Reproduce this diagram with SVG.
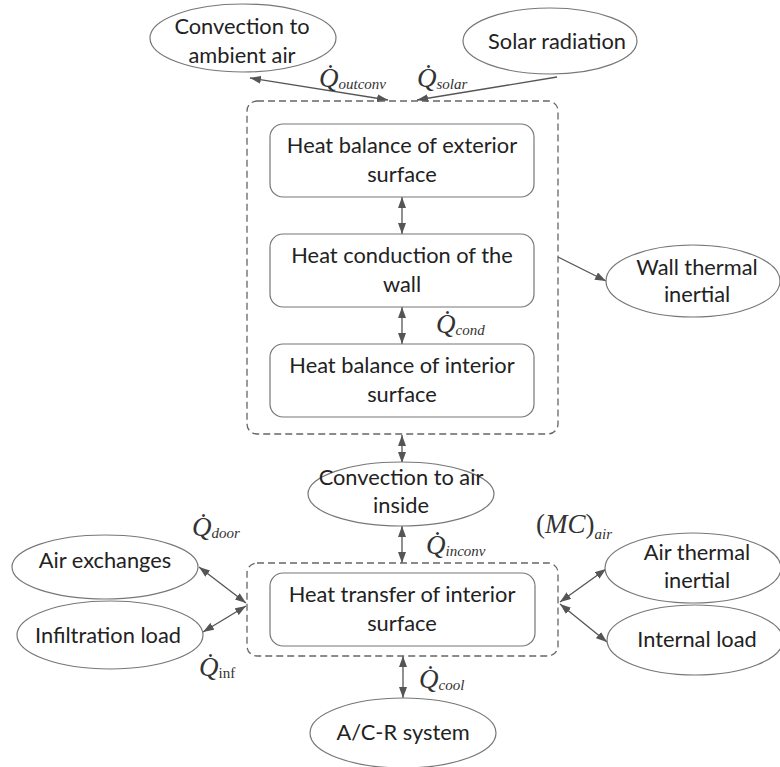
<svg xmlns="http://www.w3.org/2000/svg" width="780" height="767" viewBox="0 0 780 767">
<defs>
<marker id="ah" viewBox="0 0 11 8" refX="11" refY="4" markerWidth="11" markerHeight="8" markerUnits="userSpaceOnUse" orient="auto-start-reverse">
<path d="M0,0 L11,4 L0,8 z" fill="#555"/>
</marker>
<style>
.ell{fill:#fff;stroke:#777;stroke-width:1.2}
.box{fill:#fff;stroke:#777;stroke-width:1.2}
.dash{fill:none;stroke:#666;stroke-width:1.3;stroke-dasharray:7,4}
.t{font-family:Lato,"Open Sans","Liberation Sans",sans-serif;font-size:21.8px;fill:#222;text-anchor:middle}
.q{font-family:"Liberation Serif","Times New Roman",serif;font-style:italic;font-size:27px;fill:#333}
.s{font-size:15px}
.c{fill:none;stroke:#555;stroke-width:1.3}
.d{marker-start:url(#ah);marker-end:url(#ah)}
.e{marker-end:url(#ah)}
</style>
</defs>
<rect width="780" height="767" fill="#fff"/>
<g id="connectors">
<line class="c d" x1="250" y1="78" x2="388" y2="100"/>
<line class="c e" x1="557" y1="77" x2="417" y2="100"/>
<line class="c d" x1="402" y1="197" x2="402" y2="234"/>
<line class="c d" x1="402" y1="307" x2="402" y2="344"/>
<line class="c e" x1="558" y1="257" x2="606" y2="281"/>
<line class="c d" x1="402" y1="435" x2="402" y2="463"/>
<line class="c d" x1="402" y1="526" x2="402" y2="563"/>
<line class="c d" x1="199" y1="567" x2="246" y2="603"/>
<line class="c d" x1="203" y1="632" x2="246" y2="606"/>
<line class="c d" x1="560" y1="602" x2="606" y2="569"/>
<line class="c d" x1="560" y1="604" x2="607" y2="642"/>
<line class="c d" x1="403" y1="656" x2="403" y2="698"/>
</g>
<g id="wall-group"><rect class="dash" x="247" y="101" width="311" height="333" rx="10"/></g>
<g id="room-group"><rect class="dash" x="247" y="563" width="311" height="93" rx="10"/></g>
<g id="conv-ambient"><ellipse class="ell" cx="243" cy="38" rx="93" ry="34"/><text class="t" x="242" y="34">Convection to</text><text class="t" x="242" y="63">ambient air</text></g>
<g id="solar"><ellipse class="ell" cx="550" cy="41" rx="87" ry="33"/><text class="t" x="557" y="49">Solar radiation</text></g>
<g id="ext-surface"><rect class="box" x="270" y="124" width="264" height="73" rx="13"/><text class="t" x="402" y="153">Heat balance of exterior</text><text class="t" x="402" y="182">surface</text></g>
<g id="conduction"><rect class="box" x="270" y="234" width="264" height="73" rx="13"/><text class="t" x="402" y="263">Heat conduction of the</text><text class="t" x="402" y="292">wall</text></g>
<g id="int-surface"><rect class="box" x="270" y="344" width="264" height="73" rx="13"/><text class="t" x="402" y="373">Heat balance of interior</text><text class="t" x="402" y="402">surface</text></g>
<g id="wall-inertia"><ellipse class="ell" cx="693" cy="281" rx="87" ry="36"/><text class="t" x="697" y="275">Wall thermal</text><text class="t" x="697" y="302">inertial</text></g>
<g id="conv-inside"><ellipse class="ell" cx="401" cy="494" rx="93" ry="32"/><text class="t" x="401" y="485">Convection to air</text><text class="t" x="401" y="513">inside</text></g>
<g id="heat-transfer"><rect class="box" x="270" y="573" width="265" height="73" rx="13"/><text class="t" x="402" y="602">Heat transfer of interior</text><text class="t" x="402" y="631">surface</text></g>
<g id="air-exchanges"><ellipse class="ell" cx="105" cy="567" rx="93" ry="32"/><text class="t" x="105" y="568">Air exchanges</text></g>
<g id="infiltration"><ellipse class="ell" cx="110" cy="635" rx="93" ry="34"/><text class="t" x="108" y="643">Infiltration load</text></g>
<g id="air-inertia"><ellipse class="ell" cx="693" cy="568" rx="88" ry="35"/><text class="t" x="697" y="560">Air thermal</text><text class="t" x="697" y="588">inertial</text></g>
<g id="internal-load"><ellipse class="ell" cx="695" cy="640" rx="88" ry="35"/><text class="t" x="697" y="647">Internal load</text></g>
<g id="ac-system"><ellipse class="ell" cx="403" cy="733" rx="93" ry="35"/><text class="t" x="403" y="740">A/C-R system</text></g>
<g id="labels">
<text class="q" x="319" y="87">Q̇<tspan class="s" dy="2">outconv</tspan></text>
<text class="q" x="417" y="87">Q̇<tspan class="s" dy="2">solar</tspan></text>
<text class="q" x="436" y="333">Q̇<tspan class="s" dy="2">cond</tspan></text>
<text class="q" x="192" y="536">Q̇<tspan class="s" dy="2">door</tspan></text>
<text class="q" x="426" y="554">Q̇<tspan class="s" dy="2">inconv</tspan></text>
<text class="q" x="199" y="676">Q̇<tspan class="s" dy="2" font-style="normal">inf</tspan></text>
<text class="q" x="419" y="688">Q̇<tspan class="s" dy="2">cool</tspan></text>
<text class="q" x="536" y="533" font-size="31"><tspan font-style="normal">(</tspan>MC<tspan font-style="normal">)</tspan><tspan class="s" dy="6">air</tspan></text>
</g>
</svg>
